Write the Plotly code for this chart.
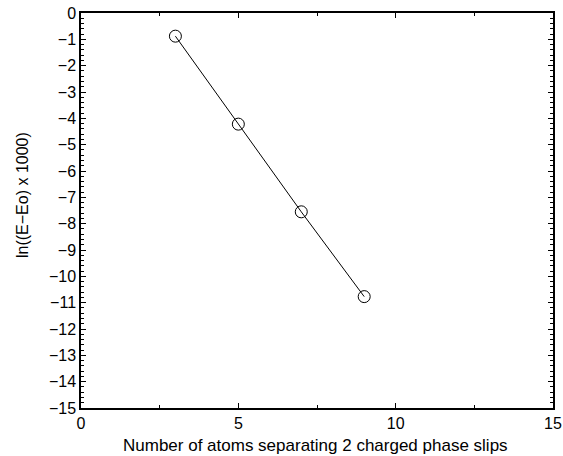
import plotly.graph_objects as go

atoms = [3, 5, 7, 9]
ln_energy = [-0.88, -4.22, -7.55, -10.77]

x_ticks = [0, 5, 10, 15]
y_ticks = list(range(-15, 1))

L, R, T, B, W, H = 81, 10, 13, 48, 563, 456
pw, ph = W - L - R, H - T - B

fig = go.Figure()
fig.add_trace(go.Scatter(
    x=atoms, y=ln_energy, mode="lines+markers",
    line=dict(color="black", width=1),
    marker=dict(symbol="circle-open", size=12, color="black", line=dict(width=1)),
    showlegend=False,
))

font = dict(family="Liberation Sans, Arial, sans-serif", size=16, color="black")
fig.update_layout(
    width=W, height=H,
    margin=dict(l=L, r=R, t=T, b=B, autoexpand=False),
    plot_bgcolor="white", paper_bgcolor="white",
    font=font,
)
fig.update_xaxes(
    range=[0, 15], tickvals=x_ticks, ticktext=[str(v) for v in x_ticks],
    showgrid=False, zeroline=False, showline=True, linecolor="black", linewidth=1.5,
    mirror="ticks", ticks="inside", ticklen=5, tickcolor="black", automargin=False,
    tickfont=dict(size=16),
    minor=dict(tickvals=[2.5, 7.5, 12.5], ticks="inside", ticklen=3, tickcolor="black", showgrid=False),
)
fig.update_yaxes(
    range=[-15, 0], tickvals=y_ticks, ticktext=[str(v) if v == 0 else "\u2212" + str(-v) for v in y_ticks],
    showgrid=False, zeroline=False, showline=True, linecolor="black", linewidth=1.5,
    mirror="ticks", ticks="inside", ticklen=5, tickcolor="black", automargin=False,
    tickfont=dict(size=16),
    minor=dict(dtick=0.2, ticks="inside", ticklen=3, tickcolor="black", showgrid=False),
)
fig.add_annotation(
    text="Number of atoms separating 2 charged phase slips",
    xref="paper", yref="paper", x=(315 - L) / pw, y=-(445 - (T + ph)) / ph,
    showarrow=False, xanchor="center", yanchor="middle", font=dict(size=17),
)
fig.add_annotation(
    text="ln((E\u2212Eo) x 1000)",
    xref="paper", yref="paper", x=(22 - L) / pw, y=((T + ph) - 195) / ph,
    showarrow=False, xanchor="center", yanchor="middle", textangle=-90, font=dict(size=16),
)
fig.write_html("out.html")
